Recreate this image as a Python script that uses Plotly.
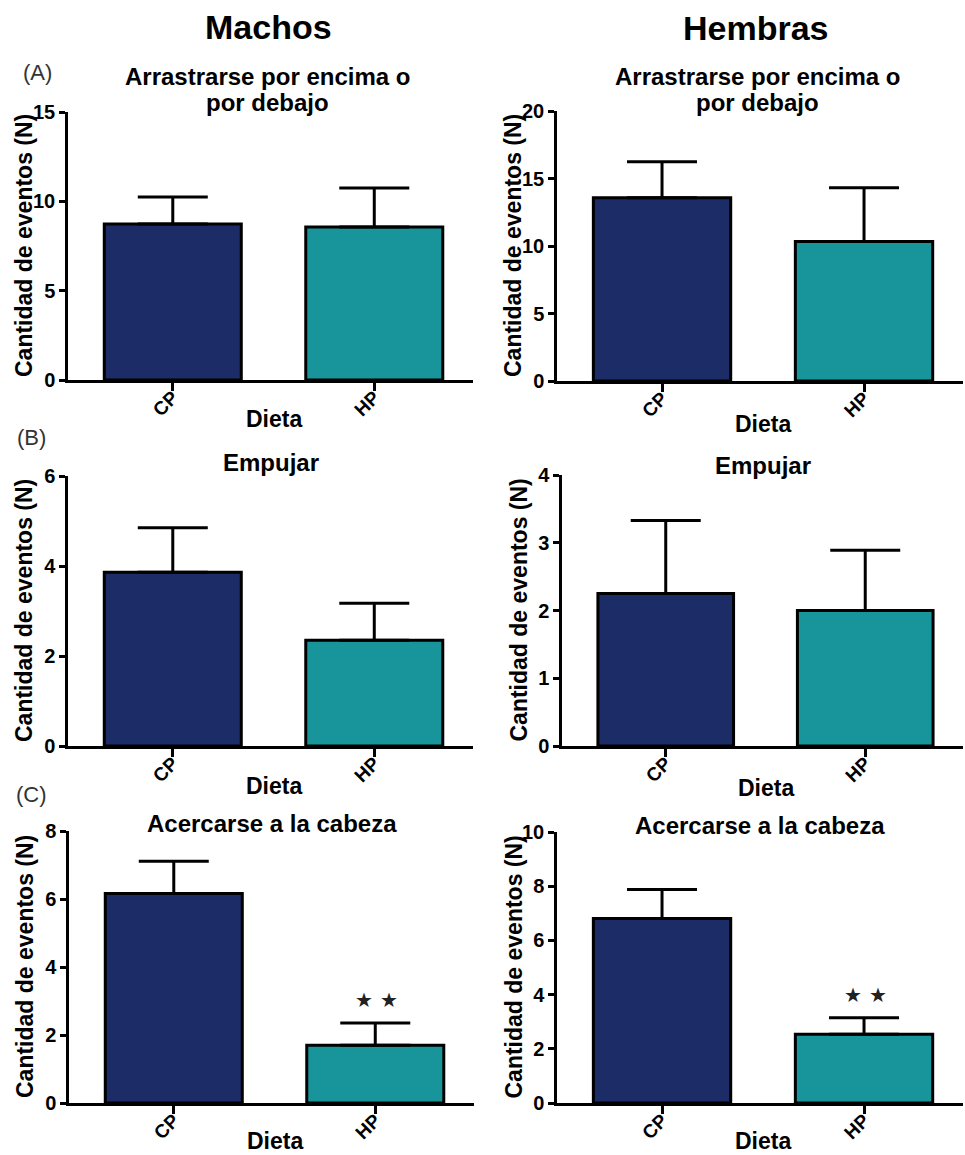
import plotly.graph_objects as go

# Diet groups
dietas = ["CP", "HP"]

# Mean number of events and SEM per behaviour, males
machos_arrastrarse = [8.73, 8.56]
machos_arrastrarse_sem = [1.51, 2.18]
machos_empujar = [3.86, 2.35]
machos_empujar_sem = [0.99, 0.82]
machos_acercarse = [6.16, 1.70]
machos_acercarse_sem = [0.95, 0.65]

# Mean number of events and SEM per behaviour, females
hembras_arrastrarse = [13.58, 10.33]
hembras_arrastrarse_sem = [2.66, 3.99]
hembras_empujar = [2.25, 2.00]
hembras_empujar_sem = [1.08, 0.89]
hembras_acercarse = [6.81, 2.54]
hembras_acercarse_sem = [1.07, 0.61]

# Axis maxima and tick steps
y_max = [15, 20, 6, 4, 8, 10]
y_step = [5, 5, 2, 1, 2, 2]

titulos = [["Arrastrarse por encima o", "por debajo"], ["Arrastrarse por encima o", "por debajo"],
           ["Empujar"], ["Empujar"], ["Acercarse a la cabeza"], ["Acercarse a la cabeza"]]

W, H = 965, 1155
FONT = "Liberation Sans, Arial, Helvetica, sans-serif"
C_CP = "#1c2c66"
C_HP = "#18959a"

panels = [
    (machos_arrastrarse, machos_arrastrarse_sem),
    (hembras_arrastrarse, hembras_arrastrarse_sem),
    (machos_empujar, machos_empujar_sem),
    (hembras_empujar, hembras_empujar_sem),
    (machos_acercarse, machos_acercarse_sem),
    (hembras_acercarse, hembras_acercarse_sem),
]

# pixel layout of each panel: (x_left, x_right, y_top, y_bottom)
boxes = [
    (68, 473, 112, 380), (557, 963, 111, 381),
    (68, 473, 476, 746), (562, 963, 475, 746),
    (69, 474, 831, 1103), (557, 963, 832, 1103),
]
# title centre (x shift, y of last line) relative to panel box
title_pos = [(-3, 103), (-3, 103), (0, 463), (0, 465), (0, 823), (0, 825)]
dieta_y = [419, 424, 786, 788, 1141, 1141]


def px_x(v):
    return v / W


def px_y(v):
    return 1 - v / H


fig = go.Figure()
layout = dict(
    width=W, height=H,
    margin=dict(l=0, r=0, t=0, b=0, autoexpand=False),
    paper_bgcolor="white", plot_bgcolor="white",
    showlegend=False,
    font=dict(family=FONT, color="black"),
    annotations=[],
)

for i, ((means, sems), box) in enumerate(zip(panels, boxes)):
    n = i + 1
    xa = "x" if n == 1 else f"x{n}"
    ya = "y" if n == 1 else f"y{n}"
    fig.add_trace(go.Bar(
        x=dietas, y=means, xaxis=xa, yaxis=ya,
        width=0.68,
        marker=dict(color=[C_CP, C_HP], line=dict(color="black", width=3)),
        error_y=dict(type="data", symmetric=False, array=sems,
                     arrayminus=[0, 0], color="black", thickness=3, width=35),
    ))
    x0, x1, y0, y1 = box
    key = "" if n == 1 else str(n)
    layout["xaxis" + key] = dict(
        domain=[px_x(x0), px_x(x1)], anchor=ya, range=[-0.52, 1.49],
        automargin=False,
        showline=True, linecolor="black", linewidth=2.5,
        ticks="outside", ticklen=8, tickwidth=2.5, tickcolor="black",
        tickangle=-45, ticklabelstandoff=-12,
        tickfont=dict(size=19, weight="bold", family=FONT),
        showgrid=False, zeroline=False, fixedrange=True,
    )
    layout["yaxis" + key] = dict(
        domain=[px_y(y1), px_y(y0)], anchor=xa, range=[0, y_max[i]],
        automargin=False,
        tickmode="linear", tick0=0, dtick=y_step[i],
        showline=True, linecolor="black", linewidth=2.5,
        ticks="outside", ticklen=6, tickwidth=2.5, tickcolor="black",
        tickfont=dict(size=20, weight="bold", family=FONT),
        showgrid=False, zeroline=False, fixedrange=True,
    )
    # panel title, one annotation per line
    dx, ty = title_pos[i]
    lines = titulos[i]
    for k, line in enumerate(lines):
        layout["annotations"].append(dict(
            text=line, xref="paper", yref="paper",
            x=px_x((x0 + x1) / 2 + dx), y=px_y(ty - 26 * (len(lines) - 1 - k)),
            xanchor="center", yanchor="middle",
            showarrow=False, font=dict(size=24, weight="bold", family=FONT),
        ))
    # y-axis title
    layout["annotations"].append(dict(
        text="Cantidad de eventos (N)", xref="paper", yref="paper",
        x=px_x(x0 - 44), y=px_y((y0 + y1) / 2), xanchor="center", yanchor="middle",
        textangle=-90, showarrow=False, font=dict(size=23, weight="bold", family=FONT),
    ))
    # x-axis title
    layout["annotations"].append(dict(
        text="Dieta", xref="paper", yref="paper",
        x=px_x((x0 + x1) / 2 + 3), y=px_y(dieta_y[i]), xanchor="center", yanchor="middle",
        showarrow=False, font=dict(size=23, weight="bold", family=FONT),
    ))

# significance marks (two stars) above the HP bars of the last row
for n, (means, sems) in ((5, panels[4]), (6, panels[5])):
    for shift in (-11, 14):
        layout["annotations"].append(dict(
            text="★", xref=f"x{n}", yref=f"y{n}", x="HP", xshift=shift,
            y=means[1] + sems[1] + 0.085 * y_max[n - 1],
            xanchor="center", yanchor="middle", showarrow=False,
            font=dict(size=20, family="DejaVu Sans", color="#222222"),
        ))

# column headings and row letters
layout["annotations"] += [
    dict(text="Machos", xref="paper", yref="paper", x=px_x(268), y=px_y(27),
         xanchor="center", yanchor="middle", showarrow=False,
         font=dict(size=34, weight="bold", family=FONT)),
    dict(text="Hembras", xref="paper", yref="paper", x=px_x(756), y=px_y(28),
         xanchor="center", yanchor="middle", showarrow=False,
         font=dict(size=34, weight="bold", family=FONT)),
    dict(text="(A)", xref="paper", yref="paper", x=px_x(37), y=px_y(72),
         xanchor="center", yanchor="middle", showarrow=False,
         font=dict(size=22, family=FONT, color="#333333")),
    dict(text="(B)", xref="paper", yref="paper", x=px_x(31), y=px_y(437),
         xanchor="center", yanchor="middle", showarrow=False,
         font=dict(size=22, family=FONT, color="#333333")),
    dict(text="(C)", xref="paper", yref="paper", x=px_x(31), y=px_y(794),
         xanchor="center", yanchor="middle", showarrow=False,
         font=dict(size=22, family=FONT, color="#333333")),
]

fig.update_layout(**layout)
fig.write_html("out.html")
